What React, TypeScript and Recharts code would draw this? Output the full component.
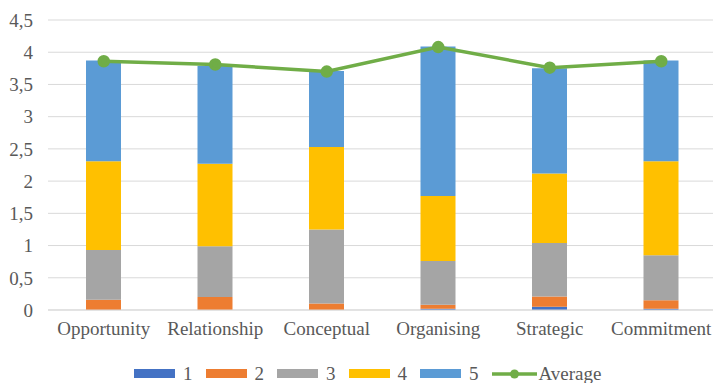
import React from 'react'
import {
  ComposedChart,
  Bar,
  Line,
  XAxis,
  YAxis,
  CartesianGrid,
} from 'recharts'

const categories = ['Opportunity', 'Relationship', 'Conceptual', 'Organising', 'Strategic', 'Commitment']
const score1 = [0, 0, 0, 0.02, 0.05, 0.02]
const score2 = [0.16, 0.2, 0.1, 0.06, 0.16, 0.13]
const score3 = [0.77, 0.79, 1.15, 0.68, 0.83, 0.7]
const score4 = [1.38, 1.28, 1.28, 1.01, 1.08, 1.46]
const score5 = [1.56, 1.52, 1.18, 2.32, 1.63, 1.56]
const average = [3.86, 3.81, 3.7, 4.08, 3.76, 3.86]
const yTicks = [0, 0.5, 1, 1.5, 2, 2.5, 3, 3.5, 4, 4.5]

const series = [
  { key: 's1', name: '1', color: '#4472C4' },
  { key: 's2', name: '2', color: '#ED7D31' },
  { key: 's3', name: '3', color: '#A5A5A5' },
  { key: 's4', name: '4', color: '#FFC000' },
  { key: 's5', name: '5', color: '#5B9BD5' },
]
const avgColor = '#70AD47'

const data = categories.map((name, i) => ({
  name,
  s1: score1[i],
  s2: score2[i],
  s3: score3[i],
  s4: score4[i],
  s5: score5[i],
  avg: average[i],
}))

const font = '"Liberation Serif", "Times New Roman", serif'
const textColor = '#595959'

function ChartLegend() {
  return (
    <div
      style={{
        position: 'absolute',
        top: 364,
        left: 134,
        display: 'flex',
        alignItems: 'center',
        fontFamily: font,
        fontSize: 19,
        color: textColor,
        lineHeight: '19px',
      }}
    >
      {series.map(s => (
        <div key={s.key} style={{ display: 'flex', alignItems: 'center', marginRight: 13 }}>
          <div style={{ width: 41, height: 9, background: s.color, marginRight: 8 }} />
          <span>{s.name}</span>
        </div>
      ))}
      <div style={{ display: 'flex', alignItems: 'center' }}>
        <svg width={45} height={12} style={{ marginRight: 2 }}>
          <line x1={0} y1={6} x2={45} y2={6} stroke={avgColor} strokeWidth={3.5} />
          <circle cx={22.5} cy={6} r={4.5} fill={avgColor} />
        </svg>
        <span>Average</span>
      </div>
    </div>
  )
}

export default function App() {
  return (
    <div
      style={{
        position: 'absolute',
        top: 0,
        left: 0,
        width: 713,
        height: 383,
        overflow: 'hidden',
        background: '#fff',
      }}
    >
      <ComposedChart
        width={720}
        height={383}
        data={data}
        margin={{ top: 20, right: 3, bottom: 0, left: 0 }}
      >
        <CartesianGrid vertical={false} stroke="#D9D9D9" />
        <XAxis
          dataKey="name"
          height={73}
          tickLine={false}
          tickSize={0}
          tickMargin={12}
          axisLine={{ stroke: '#D9D9D9' }}
          interval={0}
          tick={{ fill: textColor, fontSize: 19, fontFamily: font }}
        />
        <YAxis
          width={48}
          domain={[0, 4.5]}
          ticks={yTicks}
          interval={0}
          axisLine={false}
          tickLine={false}
          tickSize={0}
          tickMargin={15}
          tickFormatter={(v: number) => String(v).replace('.', ',')}
          tick={{ fill: textColor, fontSize: 19, fontFamily: font }}
        />
        {series.map(s => (
          <Bar
            key={s.key}
            dataKey={s.key}
            name={s.name}
            stackId="a"
            fill={s.color}
            barSize={35}
            isAnimationActive={false}
          />
        ))}
        <Line
          dataKey="avg"
          name="Average"
          stroke={avgColor}
          strokeWidth={3.5}
          dot={{ r: 4.5, fill: avgColor, stroke: avgColor }}
          isAnimationActive={false}
        />
      </ComposedChart>
      <ChartLegend />
    </div>
  )
}
